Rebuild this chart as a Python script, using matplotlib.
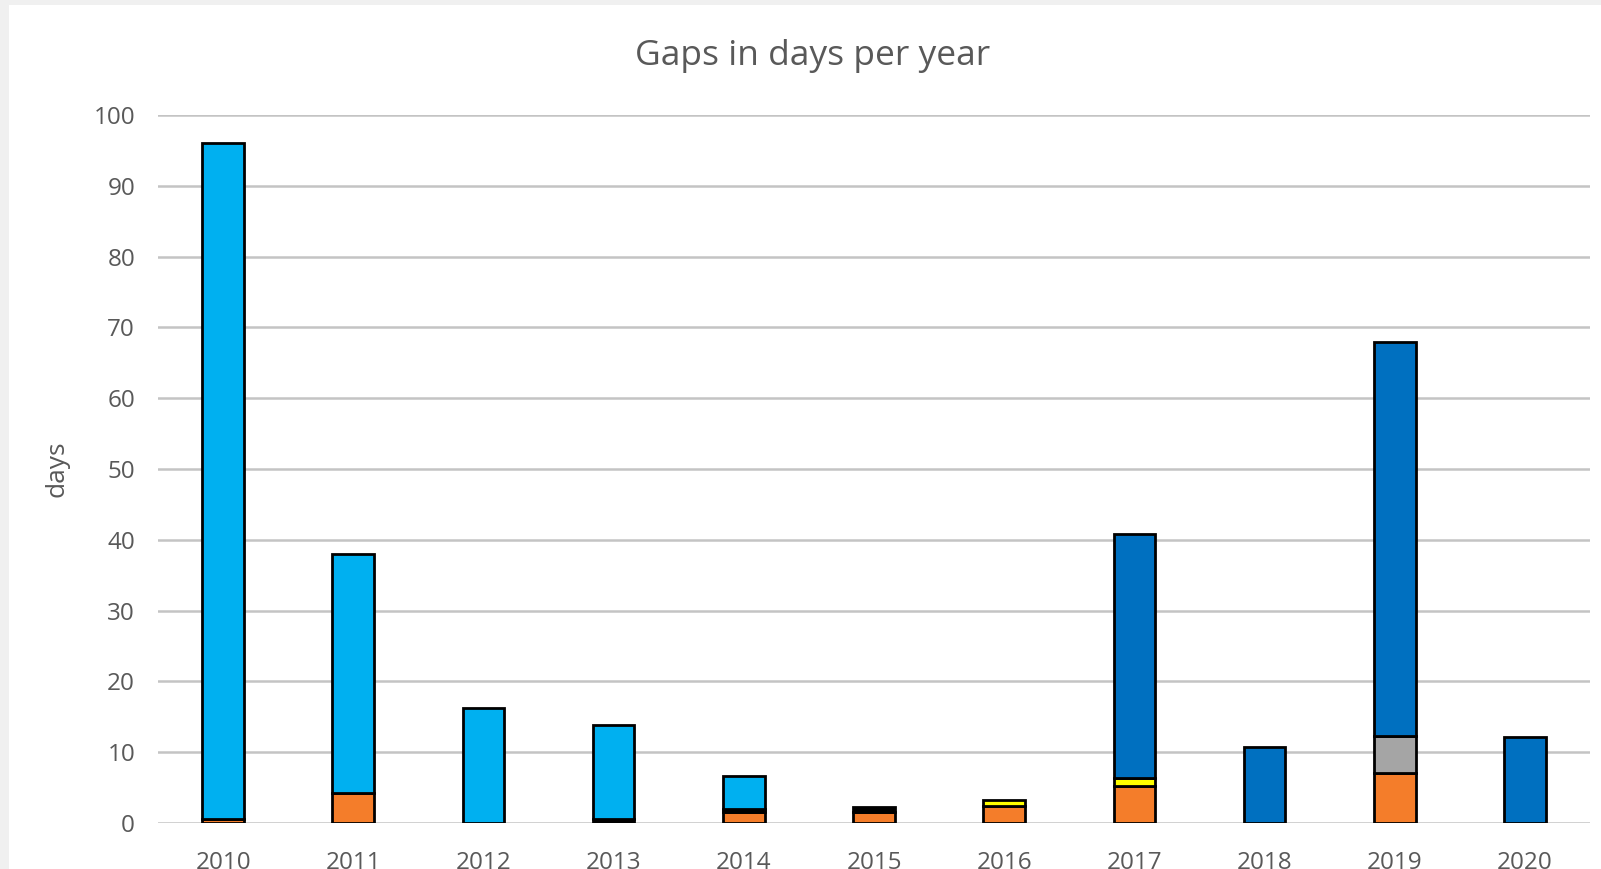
import matplotlib.pyplot as plt
import numpy as np
from matplotlib.patches import Rectangle

years = ["2010", "2011", "2012", "2013", "2014", "2015",
         "2016", "2017", "2018", "2019", "2020"]

# gap days per year, one list per stacked series (bottom to top)
orange = [0.5, 4.2, 0.0, 0.0, 1.5, 1.6, 2.4, 5.2, 0.0, 7.0, 0.0]
black = [0.0, 0.0, 0.0, 0.6, 0.5, 0.6, 0.0, 0.0, 0.0, 0.0, 0.0]
yellow = [0.0, 0.0, 0.0, 0.0, 0.0, 0.0, 0.8, 1.2, 0.0, 0.0, 0.0]
gray = [0.0, 0.0, 0.0, 0.0, 0.0, 0.0, 0.0, 0.0, 0.0, 5.3, 0.0]
light_blue = [95.5, 33.8, 16.3, 13.3, 4.7, 0.0, 0.0, 0.0, 0.0, 0.0, 0.0]
dark_blue = [0.0, 0.0, 0.0, 0.0, 0.0, 0.0, 0.0, 34.4, 10.8, 55.7, 12.2]

series = [
    (orange, "#F47D2A"),
    (black, "#000000"),
    (yellow, "#FFFF00"),
    (gray, "#A5A5A5"),
    (light_blue, "#00B0F0"),
    (dark_blue, "#0070C0"),
]

plt.rcParams["font.family"] = ["Open Sans", "DejaVu Sans"]

fig = plt.figure(figsize=(16.01, 8.69), dpi=100, facecolor="#F0F0F0")
# white chart area inside the thin grey frame
fig.patches.append(Rectangle((9 / 1601, 0), 1, 1 - 5 / 869,
                             transform=fig.transFigure, facecolor="white",
                             edgecolor="none", zorder=-10))

ax = fig.add_axes([158 / 1601, 1 - 823 / 869, 1432 / 1601, 708 / 869])
ax.set_facecolor("white")

x = np.arange(len(years))
bottom = np.zeros(len(years))
for vals, color in series:
    vals = np.array(vals)
    mask = vals > 0
    ax.bar(x[mask], vals[mask], width=0.32, bottom=bottom[mask],
           color=color, edgecolor="black", linewidth=2.0, zorder=3)
    bottom += vals

ax.set_xlim(-0.5, 10.5)
ax.set_ylim(0, 100)
ax.set_yticks(np.arange(0, 101, 10))
ax.set_xticks(x)
ax.set_xticklabels(years)
ax.yaxis.grid(True, color="#C4C4C4", linewidth=1.8, zorder=1)
ax.set_axisbelow(True)
for s in ax.spines.values():
    s.set_visible(False)
ax.tick_params(axis="both", length=0, labelsize=17.5, labelcolor="#595959")
ax.tick_params(axis="x", pad=20)
ax.tick_params(axis="y", pad=16.5)

ax.set_ylabel("days", fontsize=19, color="#595959", labelpad=17)
fig.text(813 / 1601, 1 - 56 / 869, "Gaps in days per year",
         ha="center", va="center", fontsize=25.5, color="#595959")

fig.savefig("out.png", dpi=100, facecolor=fig.get_facecolor())
